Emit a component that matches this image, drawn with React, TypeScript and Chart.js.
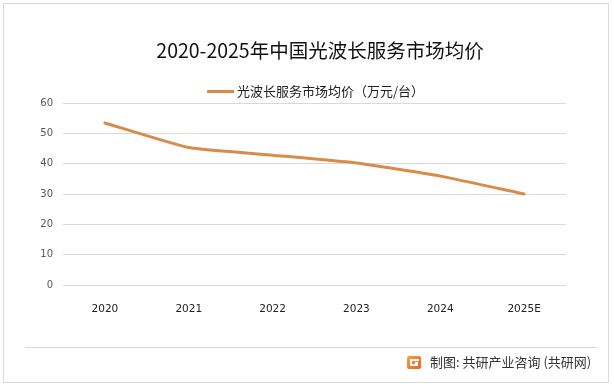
import React, { useEffect, useRef } from "react";
import { Chart, registerables } from "chart.js";

Chart.register(...registerables);

const categories = ["2020", "2021", "2022", "2023", "2024", "2025E"];
const priceValues = [53.4, 45.3, 42.8, 40.2, 35.9, 30.0];
const yTicks = [0, 10, 20, 30, 40, 50, 60];
const seriesLabel = "光波长服务市场均价（万元/台）";
const titleText = "2020-2025年中国光波长服务市场均价";
const footerText = "制图: 共研产业咨询 (共研网)";

const LINE_COLOR = "#D98B48";
const CJK = '"Noto Sans CJK SC", "Noto Sans", sans-serif';

const decorPlugin = {
  id: "decor",
  beforeDraw(chart: any) {
    const ctx = chart.ctx;
    ctx.save();
    ctx.fillStyle = "#ffffff";
    ctx.fillRect(0, 0, chart.width, chart.height);
    ctx.strokeStyle = "#d9d9d9";
    ctx.lineWidth = 1;
    ctx.strokeRect(3.5, 3.5, 605, 379);
    ctx.beginPath();
    ctx.moveTo(25, 347.5);
    ctx.lineTo(597, 347.5);
    ctx.stroke();
    ctx.restore();
  },
  afterDraw(chart: any) {
    const ctx = chart.ctx;
    ctx.save();
    // title
    ctx.fillStyle = "#111111";
    ctx.font = `19.5px ${CJK}`;
    ctx.textAlign = "center";
    ctx.textBaseline = "middle";
    ctx.fillText(titleText, 320, 51);
    // legend
    const ds = chart.data.datasets[0];
    ctx.strokeStyle = ds.borderColor;
    ctx.lineWidth = 3;
    ctx.beginPath();
    ctx.moveTo(207, 91.5);
    ctx.lineTo(234, 91.5);
    ctx.stroke();
    ctx.fillStyle = "#222222";
    ctx.font = `13px ${CJK}`;
    ctx.textAlign = "left";
    ctx.fillText(ds.label, 237, 91);
    // footer icon
    const g = ctx.createLinearGradient(407, 356, 421, 369);
    g.addColorStop(0, "#F6A33A");
    g.addColorStop(1, "#E9602A");
    ctx.fillStyle = g;
    ctx.beginPath();
    ctx.roundRect(407, 356, 14, 13, 2);
    ctx.fill();
    ctx.fillStyle = "#ffffff";
    ctx.fillRect(410, 359, 9, 2);
    ctx.fillRect(410, 359, 2, 7);
    ctx.fillRect(410, 364, 8, 2);
    ctx.fillRect(415, 362, 3, 2);
    // footer text
    ctx.fillStyle = "#333333";
    ctx.font = `13px ${CJK}`;
    ctx.fillText(footerText, 430, 362);
    ctx.restore();
  },
};

export default function App() {
  const ref = useRef<HTMLCanvasElement | null>(null);
  useEffect(() => {
    if (!ref.current) return;
    const chart = new Chart(ref.current, {
      type: "line",
      data: {
        labels: categories,
        datasets: [
          {
            label: seriesLabel,
            data: priceValues,
            borderColor: LINE_COLOR,
            backgroundColor: LINE_COLOR,
            borderWidth: 3,
            pointRadius: 0,
            tension: 0.15,
            borderCapStyle: "round",
          },
        ],
      },
      options: {
        responsive: false,
        animation: false,
        layout: { padding: { left: 0, right: 48, top: 103, bottom: 73 } },
        plugins: {
          legend: { display: false },
          title: { display: false },
          tooltip: { enabled: false },
        },
        scales: {
          x: {
            offset: true,
            grid: { display: false },
            border: { display: false },
            ticks: {
              color: "#222222",
              font: { family: '"DejaVu Sans", sans-serif', size: 10.5 },
              padding: 10,
              maxRotation: 0,
            },
            afterFit(scale: any) {
              scale.height = 30;
            },
          },
          y: {
            min: 0,
            max: 60,
            afterBuildTicks(scale: any) {
              scale.ticks = yTicks.map((v) => ({ value: v }));
            },
            grid: { color: "#d9d9d9", lineWidth: 1, drawTicks: false },
            border: { display: false },
            ticks: {
              color: "#595959",
              font: { family: '"DejaVu Sans", sans-serif', size: 10 },
              padding: 10,
            },
            afterFit(scale: any) {
              scale.width = 63;
            },
          },
        },
      },
      plugins: [decorPlugin],
    });
    return () => chart.destroy();
  }, []);
  return (
    <div style={{ position: "fixed", left: 0, top: 0, width: 614, height: 388, background: "#fff" }}>
      <canvas ref={ref} width={614} height={388} style={{ display: "block", width: 614, height: 388 }} />
    </div>
  );
}
